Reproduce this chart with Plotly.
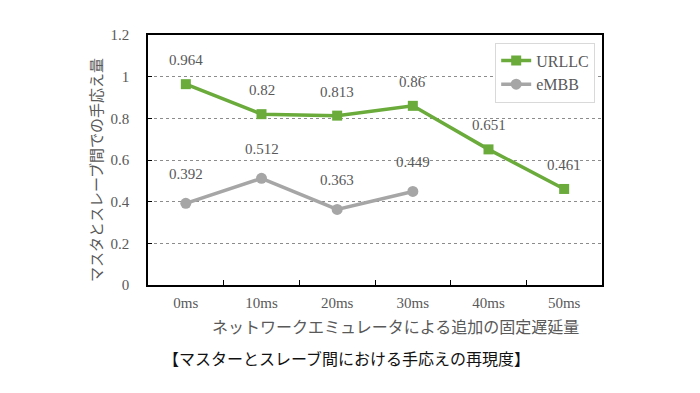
import plotly.graph_objects as go

categories = ["0ms", "10ms", "20ms", "30ms", "40ms", "50ms"]
urllc = [0.964, 0.82, 0.813, 0.86, 0.651, 0.461]
embb = [0.392, 0.512, 0.363, 0.449, None, None]
y_ticks = [0, 0.2, 0.4, 0.6, 0.8, 1, 1.2]
y_tick_labels = ["0", "0.2", "0.4", "0.6", "0.8", "1", "1.2"]

GREEN = "#6aab3c"
GRAY = "#a6a6a6"
TXT = "#595959"
SERIF = "Liberation Serif, DejaVu Serif, serif"
JP = "Noto Sans CJK JP"

xpos = list(range(len(categories)))
boundaries = [i + 0.5 for i in xpos[:-1]]

fig = go.Figure()
fig.add_trace(go.Scatter(
    x=xpos, y=urllc, name="URLLC", mode="lines+markers",
    line=dict(color=GREEN, width=3.5),
    marker=dict(symbol="square", size=10, color=GREEN),
))
fig.add_trace(go.Scatter(
    x=xpos, y=embb, name="eMBB", mode="lines+markers",
    line=dict(color=GRAY, width=3.5),
    marker=dict(symbol="circle", size=11, color=GRAY),
))

annotations = []
for c, v in zip(xpos, urllc):
    annotations.append(dict(x=c, y=v, xref="x", yref="y", text=str(v), showarrow=False,
                            xanchor="center", yanchor="middle",
                            yshift=24, font=dict(family=SERIF, size=15, color=TXT)))
for c, v in zip(xpos, embb):
    if v is None:
        continue
    annotations.append(dict(x=c, y=v, xref="x", yref="y", text=str(v), showarrow=False,
                            xanchor="center", yanchor="middle",
                            yshift=29, font=dict(family=SERIF, size=15, color=TXT)))

L, R, T, B = 148, 98, 35, 108
W, H = 700, 393
pw, ph = W - L - R, H - T - B

def px_to_paper_x(px):
    return (px - L) / pw

def px_to_paper_y(py):
    return (H - B - py) / ph

annotations.append(dict(x=px_to_paper_x(95), y=px_to_paper_y(170), xref="paper", yref="paper",
                        xanchor="center", yanchor="middle",
                        text="マスタとスレーブ間での手応え量", textangle=-90, showarrow=False,
                        font=dict(family=JP, size=15, color=TXT)))
annotations.append(dict(x=px_to_paper_x(395), y=px_to_paper_y(326), xref="paper", yref="paper",
                        xanchor="center", yanchor="middle",
                        text="ネットワークエミュレータによる追加の固定遅延量", showarrow=False,
                        font=dict(family=JP, size=16, color=TXT)))
annotations.append(dict(x=px_to_paper_x(346), y=px_to_paper_y(358), xref="paper", yref="paper",
                        xanchor="center", yanchor="middle",
                        text="【マスターとスレーブ間における手応えの再現度】", showarrow=False,
                        font=dict(family=JP, size=16, color="#111111")))

fig.update_layout(
    width=W, height=H,
    margin=dict(l=L, r=R, t=T, b=B, pad=0),
    paper_bgcolor="white", plot_bgcolor="white",
    showlegend=True,
    legend=dict(x=0.985, y=0.97, xanchor="right", yanchor="top",
                bgcolor="white", bordercolor="#d9d9d9", borderwidth=1,
                font=dict(family=SERIF, size=16, color=TXT),
                tracegroupgap=0),
    annotations=annotations,
)
fig.update_xaxes(
    range=[-0.5, 5.5], tickvals=xpos, ticktext=categories,
    showline=True, linecolor="black", linewidth=1.5, mirror=True,
    ticks="", showgrid=False, zeroline=False,
    minor=dict(tickvals=boundaries, ticks="inside", ticklen=5, tickcolor="black", showgrid=False),
    tickfont=dict(family=SERIF, size=15, color=TXT),
    ticklabelstandoff=3,
)
fig.update_yaxes(
    range=[0, 1.2], tickvals=y_ticks, ticktext=y_tick_labels,
    showline=True, linecolor="black", linewidth=1.5, mirror=True,
    ticks="inside", ticklen=4, tickcolor="black",
    showgrid=True, gridcolor="#8c8c8c", griddash="dot", gridwidth=1,
    zeroline=False,
    tickfont=dict(family=SERIF, size=15, color=TXT),
    ticklabelstandoff=14,
)

fig.write_html("out.html", config={"displayModeBar": False},
               post_script="document.body.style.margin='0';")
